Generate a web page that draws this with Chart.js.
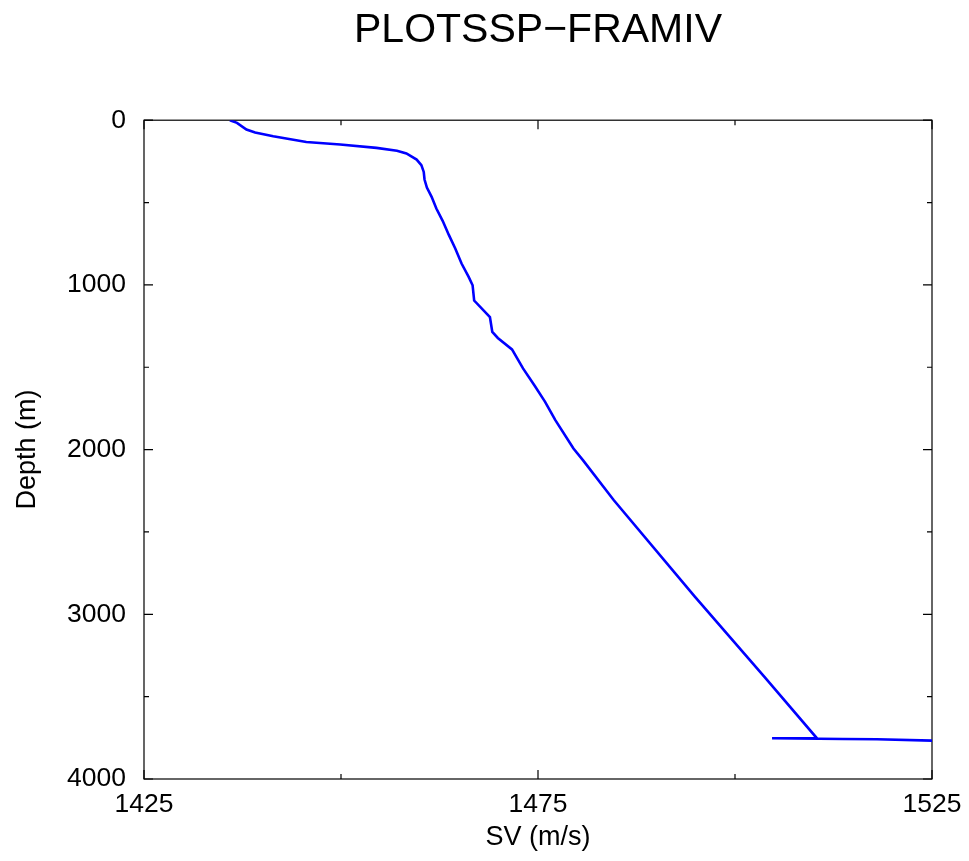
<!DOCTYPE html>
<html>
<head>
<meta charset="utf-8">
<title>PLOTSSP−FRAMIV</title>
<script src="https://cdn.jsdelivr.net/npm/chart.js@4/dist/chart.umd.min.js"></script>
<style>
  html, body { margin: 0; padding: 0; background: #fff; }
  #ssp { display: block; }
</style>
</head>
<body>
<canvas id="ssp" width="969" height="861"></canvas>
<script>
// Sound speed profile
const depths = [
  0, 16, 57, 75, 97, 132, 148, 168, 186, 202, 239, 273, 314, 360, 409, 465,
  536, 611, 698, 779, 870, 951, 1002, 1095, 1196, 1285, 1322, 1392, 1507, 1614,
  1710, 1821, 1993, 2064, 2306, 2893, 3389, 3753, 3753, 3757, 3759, 3767
];
const soundSpeeds = [
  1435.9, 1436.8, 1438.0, 1439.1, 1441.4, 1445.6, 1449.9, 1454.5, 1457.1, 1458.3, 1459.6, 1460.2, 1460.5, 1460.6, 1460.9, 1461.5,
  1462.1, 1462.9, 1463.7, 1464.5, 1465.3, 1466.2, 1466.7, 1466.9, 1468.9, 1469.2, 1469.9, 1471.7, 1473.1, 1474.6,
  1475.9, 1477.2, 1479.5, 1480.7, 1484.6, 1494.9, 1503.9, 1510.4, 1504.7, 1513.7, 1518.0, 1525.0
];

// axes
const xTickLabels = [1425, 1475, 1525];
const yTickLabels = [0, 1000, 2000, 3000, 4000];

const FONT = "'Liberation Sans', Arial, Helvetica, sans-serif";

// inward ticks on all four sides + box, like the original plot
const frameTicks = {
  id: 'frameTicks',
  beforeDatasetsDraw(chart) {
    const { ctx, chartArea: a, scales } = chart;
    ctx.save();
    ctx.strokeStyle = '#000';
    ctx.lineWidth = 1.2;
    ctx.beginPath();
    scales.x.ticks.forEach(t => {
      const px = scales.x.getPixelForValue(t.value);
      const len = xTickLabels.includes(t.value) ? 9 : 5;
      ctx.moveTo(px, a.bottom); ctx.lineTo(px, a.bottom - len);
      ctx.moveTo(px, a.top); ctx.lineTo(px, a.top + len);
    });
    scales.y.ticks.forEach(t => {
      const py = scales.y.getPixelForValue(t.value);
      const len = yTickLabels.includes(t.value) ? 9 : 5;
      ctx.moveTo(a.left, py); ctx.lineTo(a.left + len, py);
      ctx.moveTo(a.right, py); ctx.lineTo(a.right - len, py);
    });
    ctx.stroke();
    ctx.strokeRect(a.left, a.top, a.right - a.left, a.bottom - a.top);
    ctx.restore();
  }
};

new Chart(document.getElementById('ssp'), {
  type: 'scatter',
  data: {
    datasets: [{
      label: 'SSP',
      data: depths.map((d, i) => ({ x: soundSpeeds[i], y: d })),
      showLine: true,
      borderColor: '#0000ff',
      borderWidth: 2.6,
      pointRadius: 0,
      fill: false,
      tension: 0
    }]
  },
  options: {
    responsive: false,
    animation: false,
    layout: { padding: { top: 0, right: 37, bottom: 0, left: 0 } },
    plugins: {
      legend: { display: false },
      tooltip: { enabled: false },
      title: {
        display: true,
        fullSize: false,
        text: 'PLOTSSP−FRAMIV',
        color: '#000',
        font: { family: FONT, size: 41, weight: 'normal' },
        padding: { top: 6, bottom: 65 }
      }
    },
    scales: {
      x: {
        type: 'linear',
        min: 1425,
        max: 1525,
        afterFit: s => { s.height = 82; s.paddingLeft = 0; s.paddingRight = 0; },
        grid: { display: false, drawTicks: false },
        border: { display: false },
        ticks: {
          stepSize: 25,
          autoSkip: false,
          maxRotation: 0,
          padding: 10,
          color: '#000',
          font: { family: FONT, size: 26.5 },
          callback: v => xTickLabels.includes(v) ? String(v) : ''
        },
        title: {
          display: true,
          text: 'SV (m/s)',
          color: '#000',
          font: { family: FONT, size: 27 },
          padding: { top: 0, bottom: 7 }
        }
      },
      y: {
        type: 'linear',
        reverse: true,
        min: 0,
        max: 4000,
        afterFit: s => { s.width = 144; },
        grid: { display: false, drawTicks: false },
        border: { display: false },
        ticks: {
          stepSize: 500,
          autoSkip: false,
          padding: 18,
          color: '#000',
          font: { family: FONT, size: 26.5 },
          callback: v => yTickLabels.includes(v) ? String(v) : ''
        },
        title: {
          display: true,
          text: 'Depth (m)',
          color: '#000',
          font: { family: FONT, size: 27 },
          padding: { top: 11, bottom: 0 }
        }
      }
    }
  },
  plugins: [frameTicks]
});
</script>
</body>
</html>
